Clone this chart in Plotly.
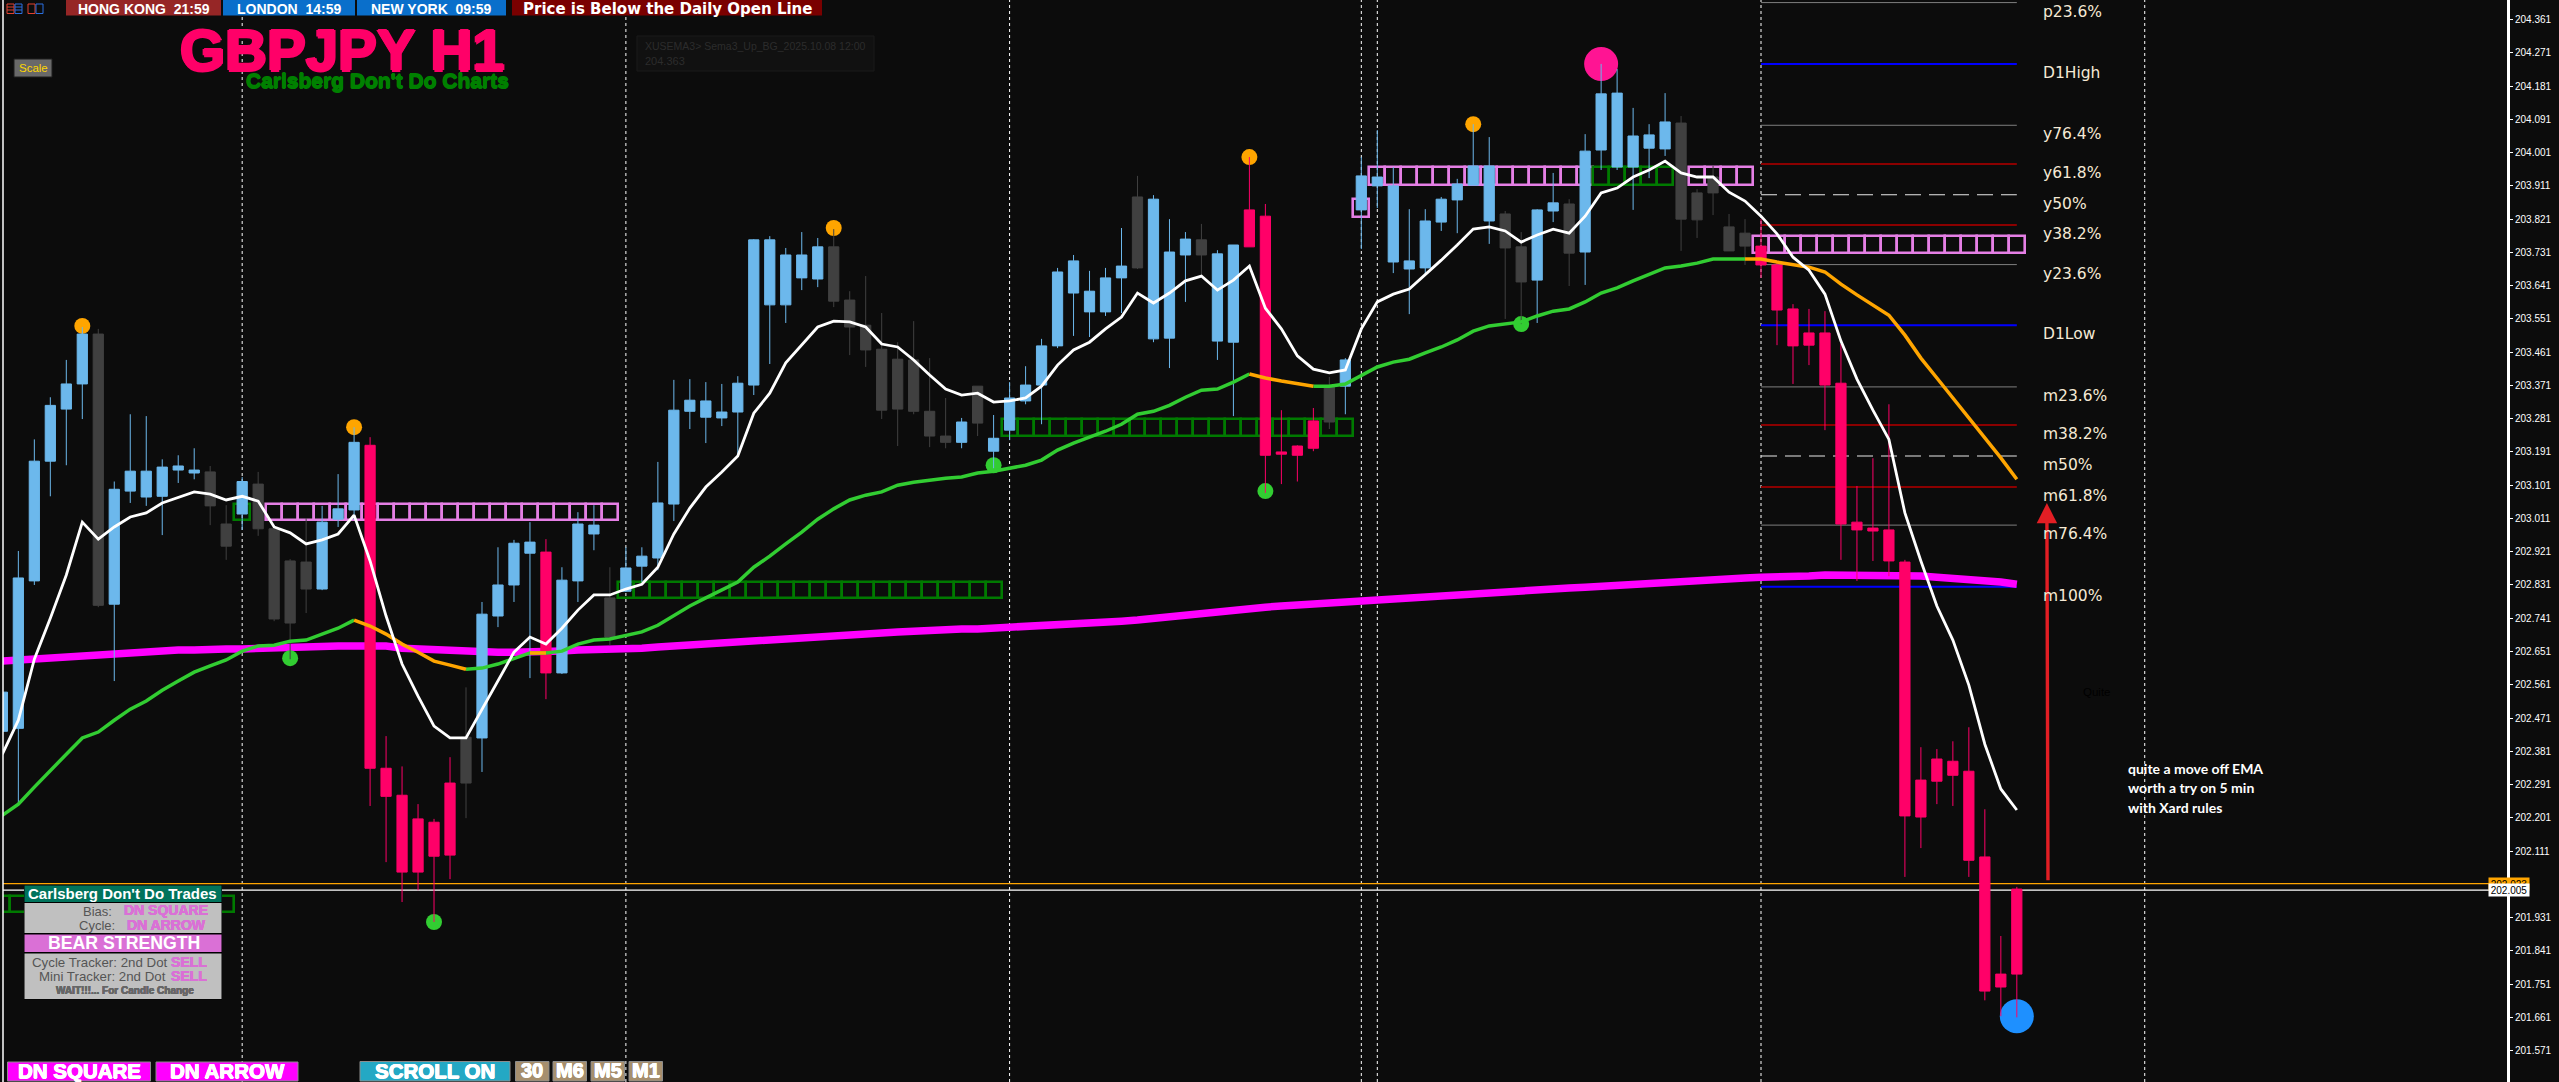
import plotly.graph_objects as go

W, H = 2559, 1082
L, R = 3, 2507
BG = "#0C0C0C"
BLUE, DARK, PINK = "#6CB8EC", "#404040", "#FF0068"

# ---------- price scale
tick_values = [204.361, 204.271, 204.181, 204.091, 204.001, 203.911, 203.821, 203.731, 203.641, 203.551,
               203.461, 203.371, 203.281, 203.191, 203.101, 203.011, 202.921, 202.831, 202.741, 202.651,
               202.561, 202.471, 202.381, 202.291, 202.201, 202.111, 201.931, 201.841, 201.751, 201.661, 201.571]
price_top, price_bottom = 204.414, 201.486
bar_axis_range = [0.04, 156.66]

# ---------- candles
kinds = ("BBBBBBDBBBBBBDDBDDDDBBBRRRRRRDBBBBRBBBDB"
         "BBBBBBBBBBBBDDDDDDDDBDBBBBBBBBBDBBBDBBRR"
         "RRRDBBBBBBBBBBDDBBDBBBBBBDDDDDRRRRRRRRRR"
         "RRRRRRR")
opens = [202.435,202.443,202.842,203.166,203.307,203.375,202.776,202.779,203.085,203.069,
 203.071,203.142,203.134,203.045,202.936,203.023,202.983,202.739,202.728,202.820,
 202.820,203.009,203.034,203.209,202.335,202.262,202.198,202.189,202.295,202.295,
 202.417,202.747,202.831,202.917,202.920,202.593,202.842,202.969,202.690,202.814,
 202.882,202.904,203.050,203.301,203.285,203.283,203.299,203.372,203.589,203.589,
 203.662,203.659,203.599,203.529,203.467,203.304,203.307,203.301,203.234,203.217,
 203.217,203.269,203.193,203.250,203.329,203.372,203.478,203.621,203.570,203.570,
 203.662,203.689,203.497,203.499,203.724,203.724,203.491,203.488,203.746,203.829,
 203.191,203.207,203.275,203.272,203.369,203.846,203.911,203.705,203.686,203.689,
 203.813,203.873,203.913,203.816,203.743,203.651,203.656,203.843,203.729,203.732,
 204.008,203.962,203.962,204.013,204.011,203.821,203.819,203.892,203.735,203.748,
 203.748,203.697,203.578,203.513,203.513,203.377,203.001,202.985,202.980,202.893,
 202.303,202.360,202.354,202.327,202.095,201.778,202.008]
highs = [202.574,202.923,203.225,203.339,203.440,203.529,203.524,203.111,203.293,203.288,
 203.171,203.182,203.201,203.153,203.047,203.123,203.137,202.983,202.901,203.012,
 203.045,203.131,203.258,203.231,202.422,202.340,202.238,202.198,202.365,202.554,
 202.785,202.933,202.953,203.001,202.955,202.879,203.028,203.047,202.879,202.933,
 202.933,203.164,203.386,203.388,203.380,203.375,203.396,203.767,203.775,203.743,
 203.786,203.770,203.794,203.626,203.667,203.567,203.488,203.545,203.445,203.337,
 203.283,203.369,203.291,203.380,203.423,203.497,203.689,203.724,203.681,203.689,
 203.797,203.938,203.886,203.821,203.786,203.808,203.737,203.751,203.989,203.862,
 203.304,203.209,203.310,203.394,203.445,203.989,204.062,203.962,203.848,203.848,
 203.881,203.930,204.078,204.043,203.843,203.786,203.848,203.946,203.875,204.051,
 204.241,204.227,204.122,204.078,204.162,204.100,203.902,203.965,203.835,203.821,
 203.821,203.702,203.591,203.578,203.572,203.483,203.099,203.174,203.320,202.899,
 202.392,202.387,202.408,202.446,202.224,201.881,202.014]
lows = [202.411,202.241,202.831,203.071,203.155,203.280,202.771,202.571,203.053,203.045,
 202.966,203.107,203.117,202.993,202.899,202.980,202.964,202.733,202.630,202.755,
 202.817,202.988,203.007,202.233,202.081,201.973,202.005,201.919,202.035,202.200,
 202.325,202.717,202.785,202.579,202.522,202.590,202.785,202.925,202.668,202.812,
 202.839,202.871,203.004,203.253,203.215,203.261,203.180,203.345,203.429,203.540,
 203.629,203.637,203.583,203.453,203.421,203.280,203.207,203.293,203.204,203.201,
 203.201,203.234,203.147,203.223,203.320,203.266,203.472,203.505,203.502,203.559,
 203.567,203.686,203.488,203.418,203.597,203.667,203.440,203.288,203.746,203.080,
 203.104,203.111,203.193,203.253,203.293,203.740,203.851,203.675,203.564,203.672,
 203.789,203.783,203.913,203.754,203.551,203.537,203.540,203.813,203.640,203.643,
 203.954,203.954,203.846,203.932,203.992,203.735,203.770,203.832,203.735,203.697,
 203.662,203.480,203.375,203.426,203.250,202.899,202.842,202.896,202.855,202.041,
 202.119,202.238,202.233,202.041,201.707,201.664,201.661]
closes = [202.541,202.850,203.166,203.317,203.375,203.510,203.510,203.090,203.139,203.139,
 203.150,203.153,203.142,203.137,202.996,203.111,203.104,202.983,202.896,202.893,
 203.001,203.037,203.217,202.335,202.259,202.054,202.054,202.097,202.100,202.419,
 202.752,202.831,202.944,202.947,202.593,202.844,202.996,202.993,202.796,202.877,
 202.909,203.053,203.304,203.331,203.329,203.299,203.377,203.765,203.765,203.724,
 203.724,203.746,203.746,203.602,203.534,203.469,203.442,203.440,203.301,203.234,
 203.272,203.369,203.228,203.337,203.372,203.478,203.678,203.708,203.626,203.662,
 203.694,203.881,203.875,203.732,203.767,203.765,203.727,203.751,203.846,203.182,
 203.185,203.182,203.201,203.369,203.440,203.938,203.935,203.911,203.708,203.816,
 203.875,203.916,203.965,203.965,203.835,203.746,203.846,203.865,203.862,204.005,
 204.160,204.162,204.046,204.049,204.084,204.081,203.892,203.935,203.800,203.783,
 203.697,203.575,203.478,203.480,203.372,202.996,202.980,202.977,202.896,202.206,
 202.203,202.300,202.316,202.086,201.732,201.743,201.778]

# ---------- moving averages
fast_ema = [202.373,202.465,202.630,202.741,202.858,203.001,202.955,202.988,203.015,203.026,
 203.053,203.069,203.083,203.077,203.061,203.071,203.058,202.988,202.972,202.942,
 202.953,202.969,203.020,202.896,202.747,202.617,202.530,202.449,202.417,202.417,
 202.495,202.574,202.649,202.690,202.671,202.714,202.763,202.804,202.804,202.820,
 202.833,202.879,202.969,203.039,203.096,203.137,203.180,203.296,203.350,203.432,
 203.480,203.529,203.545,203.543,203.529,203.483,203.475,203.440,203.399,203.361,
 203.345,203.350,203.326,203.329,203.337,203.369,203.426,203.467,203.488,203.524,
 203.556,203.621,203.594,203.621,203.654,203.667,203.629,203.656,203.694,203.580,
 203.524,203.451,203.415,203.405,203.413,203.524,203.597,203.618,203.632,203.670,
 203.710,203.751,203.794,203.800,203.789,203.759,203.778,203.794,203.783,203.829,
 203.892,203.905,203.935,203.954,203.978,203.946,203.935,203.935,203.894,203.870,
 203.829,203.781,203.718,203.683,203.618,203.491,203.388,203.304,203.225,203.026,
 202.896,202.774,202.682,202.560,202.400,202.279,202.222]
slow_ema = [202.208,202.238,202.284,202.327,202.373,202.417,202.433,202.465,202.495,202.517,
 202.546,202.571,202.595,202.612,202.628,202.652,202.666,202.668,202.679,202.682,
 202.698,202.714,202.736,202.720,202.698,202.671,202.649,202.625,202.614,202.603,
 202.606,202.617,202.633,202.647,202.647,202.652,202.671,202.682,202.685,202.695,
 202.704,202.722,202.747,202.774,202.796,202.817,202.839,202.879,202.909,202.942,
 202.974,203.009,203.037,203.061,203.074,203.083,203.101,203.109,203.115,203.120,
 203.123,203.134,203.139,203.147,203.155,203.169,203.196,203.215,203.231,203.247,
 203.266,203.293,203.301,203.317,203.339,203.358,203.361,203.380,203.402,203.391,
 203.383,203.375,203.369,203.369,203.375,203.399,203.421,203.434,203.442,203.459,
 203.475,203.494,203.518,203.532,203.537,203.543,203.559,203.572,203.578,203.597,
 203.621,203.635,203.654,203.672,203.689,203.694,203.702,203.713,203.713,203.713,
 203.713,203.705,203.699,203.691,203.678,203.645,203.616,203.589,203.561,203.507,
 203.445,203.391,203.337,203.283,203.229,203.175,203.117]
slow_down_spans = [(22, 29), (33, 34), (78, 82), (109, 126)]
long_ema = [202.625,202.628,202.630,202.633,202.636,202.641,202.644,202.644,202.647,202.649,
 202.652,202.655,202.655,202.658,202.658,202.658,202.660,202.660,202.663,202.663,
 202.666,202.666,202.666,202.668,202.666,202.660,202.658,202.655,202.652,202.649,
 202.649,202.649,202.649,202.649,202.652,202.652,202.655,202.655,202.658,202.658,
 202.660,202.663,202.666,202.668,202.671,202.674,202.676,202.682,202.685,202.687,
 202.690,202.693,202.695,202.695,202.698,202.701,202.704,202.706,202.709,202.709,
 202.712,202.712,202.714,202.714,202.717,202.720,202.722,202.725,202.728,202.731,
 202.733,202.736,202.741,202.744,202.750,202.752,202.758,202.763,202.768,202.771,
 202.774,202.777,202.779,202.782,202.785,202.787,202.790,202.793,202.796,202.798,
 202.801,202.804,202.806,202.809,202.812,202.815,202.817,202.820,202.823,202.825,
 202.828,202.831,202.833,202.836,202.836,202.839,202.842,202.844,202.847,202.850,
 202.852,202.852,202.855,202.855,202.858,202.858,202.858,202.858,202.858,202.858,
 202.855,202.852,202.850,202.847,202.842,202.839,202.833]

# ---------- swing dots
orange_dot_bars, orange_dot_prices = [5, 22, 52, 78, 92], [203.532, 203.258, 203.797, 203.989, 204.078]
green_dot_bars, green_dot_prices = [18, 27, 62, 79, 95], [202.633, 201.919, 203.155, 203.085, 203.537]
pink_dot_bars, pink_dot_prices = [100], [204.241]
blue_dot_bars, blue_dot_prices = [126], [201.664]

# ---------- ladder rows: (first bar, last bar, low, high, colour name)
ladder_rows = [
    (0, 14, 201.946, 201.989, "green"),
    (15, 15, 203.007, 203.050, "green"),
    (17, 38, 203.007, 203.050, "violet"),
    (39, 62, 202.796, 202.840, "green"),
    (63, 84, 203.234, 203.280, "green"),
    (85, 85, 203.827, 203.875, "violet"),
    (86, 99, 203.913, 203.962, "violet"),
    (100, 104, 203.913, 203.962, "green"),
    (106, 109, 203.913, 203.962, "violet"),
    (110, 126, 203.729, 203.775, "violet"),
]
ladder_colors = {"green": "#007A00", "violet": "#E57FE5"}

# ---------- fibonacci levels
fib_names = ["p23.6%", "D1High", "y76.4%", "y61.8%", "y50%", "y38.2%", "y23.6%", "D1Low",
             "m23.6%", "m38.2%", "m50%", "m61.8%", "m76.4%", "m100%"]
fib_prices = [204.407, 204.241, 204.075, 203.970, 203.887, 203.805, 203.698, 203.534,
              203.367, 203.264, 203.180, 203.096, 202.993, 202.826]
fib_kinds = ["gray", "blue", "gray", "red", "white", "red", "gray", "blue",
             "gray", "red", "white", "red", "gray", "blue"]
fib_first_bar, fib_last_bar, fib_label_bar = 110, 126, 127.5
fib_styles = {"gray": ("#7F7F7F", 1, "solid"), "blue": ("#0000FF", 2, "solid"),
              "red": ("#8B0000", 2, "solid"), "white": ("#E8E8E8", 1, "16px,8px")}

separator_bars = [15, 39, 63, 85, 86, 110, 134]
ask_price, bid_price = 202.023, 202.005
arrow_tip_price, arrow_tail_price, arrow_bar = 203.053, 202.028, 127.95
note_lines = ["quite a move off EMA", "worth a try on 5 min", "with Xard rules"]

bars = list(range(len(opens)))


def px(x):
    return (x - L) / (R - L)


def py(y):
    return 1 - y / H


fig = go.Figure()

# background layer (main axes): ladders, fibs, dots, long EMA
for first, last, low, high, name in ladder_rows:
    xs = list(range(first, last + 1))
    fig.add_trace(go.Bar(x=xs, y=[high - low] * len(xs), base=[low] * len(xs), width=1,
                         marker=dict(color="rgba(0,0,0,0)", line=dict(color=ladder_colors[name], width=2.6)),
                         hoverinfo="skip", showlegend=False))
for price, kind in zip(fib_prices, fib_kinds):
    c, w, d = fib_styles[kind]
    fig.add_trace(go.Scatter(x=[fib_first_bar, fib_last_bar], y=[price, price], mode="lines",
                             line=dict(color=c, width=w, dash=d), hoverinfo="skip", showlegend=False))
fig.add_trace(go.Scatter(x=bars, y=long_ema, mode="lines", line=dict(color="#FF00FF", width=7.5),
                         hoverinfo="skip", showlegend=False))
for xs, ys, color, size in [(orange_dot_bars, orange_dot_prices, "#FFA500", 16),
                            (green_dot_bars, green_dot_prices, "#32CD32", 16),
                            (pink_dot_bars, pink_dot_prices, "#FF1493", 34),
                            (blue_dot_bars, blue_dot_prices, "#1E90FF", 34)]:
    fig.add_trace(go.Scatter(x=xs, y=ys, mode="markers", marker=dict(color=color, size=size, line=dict(width=0)),
                             hoverinfo="skip", showlegend=False))

# candle layer (overlaid axes)
for code, color in [("B", BLUE), ("D", DARK), ("R", PINK)]:
    ids = [i for i in bars if kinds[i] == code]
    style = dict(line=dict(color=color, width=1), fillcolor=color)
    fig.add_trace(go.Candlestick(x=ids, open=[opens[i] for i in ids], high=[highs[i] for i in ids],
                                 low=[lows[i] for i in ids], close=[closes[i] for i in ids],
                                 increasing=style, decreasing=style, whiskerwidth=0,
                                 xaxis="x2", yaxis="y2", hoverinfo="skip", showlegend=False))

# slow EMA, split into rising and falling parts
down = [any(a <= i <= b for a, b in slow_down_spans) for i in bars]
up_y = [v if (not down[i] or (i + 1 < len(bars) and not down[i + 1]) or (i > 0 and not down[i - 1])) else None
        for i, v in enumerate(slow_ema)]
down_y = [v if down[i] else None for i, v in enumerate(slow_ema)]
fig.add_trace(go.Scatter(x=bars, y=up_y, mode="lines", line=dict(color="#32CD32", width=3.5),
                         xaxis="x2", yaxis="y2", hoverinfo="skip", showlegend=False))
fig.add_trace(go.Scatter(x=bars, y=down_y, mode="lines", line=dict(color="#FFA500", width=3.5),
                         xaxis="x2", yaxis="y2", hoverinfo="skip", showlegend=False))
fig.add_trace(go.Scatter(x=bars, y=fast_ema, mode="lines", line=dict(color="#FFFFFF", width=2.8),
                         xaxis="x2", yaxis="y2", hoverinfo="skip", showlegend=False))

shapes, notes = [], []


def rect(x0, y0, x1, y1, fill, line=None, lw=1, layer="above"):
    shapes.append(dict(type="rect", xref="paper", yref="paper", x0=px(x0), x1=px(x1), y0=py(y0), y1=py(y1),
                       fillcolor=fill, line=dict(color=line or fill, width=lw if line else 0), layer=layer))


def seg(x0, y0, x1, y1, color, lw=1):
    shapes.append(dict(type="line", xref="paper", yref="paper", x0=px(x0), x1=px(x1), y0=py(y0), y1=py(y1),
                       line=dict(color=color, width=lw), layer="above"))


def text(t, x, y, size, color="#FFFFFF", anchor="center", bold=False, font="Liberation Sans", fat=0):
    f = dict(family=font, size=size, color=color)
    if fat:
        f["shadow"] = (f"{fat}px 0 0 {color}, -{fat}px 0 0 {color}, 0 {fat}px 0 {color}, 0 -{fat}px 0 {color}")
    notes.append(dict(text=f"<b>{t}</b>" if bold else t, xref="paper", yref="paper", x=px(x), y=py(y),
                      xanchor=anchor, yanchor="middle", showarrow=False, font=f))


# session separators, last price lines, left edge
for b in separator_bars:
    shapes.append(dict(type="line", xref="x", yref="paper", x0=b, x1=b, y0=0, y1=1, layer="below",
                       line=dict(color="#FFFFFF", width=1, dash="3px,3px")))
for price, color in [(ask_price, "#FFA500"), (bid_price, "#FFFFFF")]:
    shapes.append(dict(type="line", xref="paper", yref="y", x0=0, x1=1, y0=price, y1=price, layer="below",
                       line=dict(color=color, width=1.2)))
seg(L, 0, L, H, "#FFFFFF", 1.5)

# header strip
rect(66, 0, 221, 15.5, "#962626")
rect(223, 0, 355, 15.5, "#0A6FCB")
rect(357, 0, 506, 15.5, "#0A6FCB")
rect(512, 0, 822, 15.5, "#7A0000")
text("HONG KONG  21:59", 143.5, 8.5, 14, bold=True)
text("LONDON  14:59", 289, 8.5, 14, bold=True)
text("NEW YORK  09:59", 431.5, 8.5, 14, bold=True)
text("Price is Below the Daily Open Line", 667, 8.5, 15, bold=True, font="DejaVu Sans")
# header icons
for x0, x1, c in [(7, 14, "#E2402E"), (15, 22, "#2A6FE0"), (28, 35, "#E2402E"), (36, 43, "#2A6FE0")]:
    rect(x0, 4, x1, 13.5, "rgba(0,0,0,0)", c, 1)
for yy in (7, 10):
    seg(7, yy, 14, yy, "#E2402E")
    seg(15, yy, 22, yy, "#2A6FE0")

# title block
text("GBPJPY H1", 342, 49, 58, PINK, bold=True, fat=1.5)
text("Carlsberg Don't Do Charts", 377, 80, 21, "#008000", bold=True, fat=0.6)
rect(14, 59, 52, 77, "#696969", "#1E1E1E", 1)
text("Scale", 33, 68, 11.5, "#FFD700")
rect(637, 36, 874, 71, "#111111", "#1A1A1A", 1, layer="below")
text("XUSEMA3&gt; Sema3_Up_BG_2025.10.08 12:00", 643, 46, 10.5, "#2C2C2C", anchor="left")
text("204.363", 643, 61, 11, "#2C2C2C", anchor="left")

# info panel
rect(24, 885, 222, 999.5, "#000000")
rect(24.5, 885.5, 221.5, 902, "#00735C")
rect(24.5, 903, 221.5, 933, "#C0C0C0")
rect(24.5, 934.5, 221.5, 952, "#DA70D6")
rect(24.5, 953.5, 221.5, 999, "#C0C0C0")
text("Carlsberg Don't Do Trades", 122.5, 893.5, 15, bold=True)
text("Bias:", 114, 911, 13, "#555555", anchor="right")
text("DN SQUARE", 165.5, 910, 14, "#DA70D6", bold=True, fat=0.3)
text("Cycle:", 117, 925, 13, "#555555", anchor="right")
text("DN ARROW", 166, 925, 14, "#DA70D6", bold=True, fat=0.3)
text("BEAR STRENGTH", 123.5, 943, 17.7, bold=True)
text("Cycle Tracker: 2nd Dot", 170, 962, 13.3, "#555555", anchor="right")
text("SELL", 189, 962, 14, "#DA70D6", bold=True, fat=0.3)
text("Mini Tracker: 2nd Dot", 168, 976, 13.3, "#555555", anchor="right")
text("SELL", 189, 976, 14, "#DA70D6", bold=True, fat=0.3)
text("WAIT!!!... For Candle Change", 125, 990, 10, "#666666", bold=True, fat=0.3)

# bottom buttons
rect(7.5, 1062, 150.5, 1081, "#FF00FF", "#8C8C8C", 1)
text("DN SQUARE", 79, 1070, 20.5, bold=True, fat=0.5)
rect(156, 1062, 298, 1081, "#FF00FF", "#8C8C8C", 1)
text("DN ARROW", 227, 1070, 20.5, bold=True, fat=0.5)
rect(360, 1061.5, 510, 1081, "#24A8C4", "#8C8C8C", 1)
text("SCROLL ON", 435, 1070, 20.5, bold=True, fat=0.5)
for x0, label in [(515.5, "30"), (553, "M6"), (591, "M5"), (629, "M1")]:
    rect(x0, 1061.5, x0 + 33.5, 1081, "#A68F6E", "#8C8C8C", 1)
    text(label, x0 + 16.75, 1070, 20, bold=True, fat=0.5)

# fib labels
for name, price in zip(fib_names, fib_prices):
    notes.append(dict(text=name, x=fib_label_bar, y=price, xref="x", yref="y", xanchor="left", yanchor="middle",
                      yshift=-9, showarrow=False, font=dict(family="DejaVu Sans", size=15.5, color="#F5E9D5")))

# trader's note and arrow
for line, yy in zip(note_lines, (768, 787.5, 807)):
    text(line, 2126, yy, 14, bold=True, anchor="left", font="Lato")
text("Quite", 2097, 692, 11.5, "#000000")
notes.insert(0, dict(x=arrow_bar - 0.07, y=arrow_tip_price, ax=arrow_bar, ay=arrow_tail_price, xref="x", yref="y",
                     axref="x", ayref="y", text="", showarrow=True, arrowhead=2, arrowsize=1.2,
                     arrowwidth=3.4, arrowcolor="#E31E24"))

# last price boxes
notes.append(dict(text="202.023", xref="paper", yref="y", x=px(2530), y=ask_price, showarrow=False,
                  width=38, height=10, bgcolor="#FFA500", font=dict(family="Liberation Sans", size=10, color="#000000")))
notes.append(dict(text="202.005", xref="paper", yref="y", x=px(2530), y=bid_price, showarrow=False,
                  width=38, height=10, bgcolor="#FFFFFF", font=dict(family="Liberation Sans", size=10, color="#000000")))

y_range = [price_bottom, price_top]
fig.update_layout(
    width=W, height=H, margin=dict(l=L, r=W - R, t=0, b=0), autosize=False,
    paper_bgcolor=BG, plot_bgcolor=BG, showlegend=False,
    barmode="overlay", boxmode="overlay", boxgap=0.36, boxgroupgap=0, bargap=0,
    xaxis=dict(range=bar_axis_range, visible=False, fixedrange=True, rangeslider=dict(visible=False)),
    xaxis2=dict(range=bar_axis_range, visible=False, overlaying="x", fixedrange=True, rangeslider=dict(visible=False)),
    yaxis=dict(range=y_range, side="right", showgrid=False, zeroline=False, showline=True, linecolor="#FFFFFF",
               linewidth=3, ticks="outside", ticklen=3, tickwidth=1, tickcolor="#FFFFFF", tickmode="array",
               tickvals=tick_values, ticktext=[f"{v:.3f}" for v in tick_values],
               tickfont=dict(family="Liberation Sans", size=10, color="#FFFFFF"), fixedrange=True),
    yaxis2=dict(range=y_range, overlaying="y", side="right", visible=False, fixedrange=True),
    shapes=shapes, annotations=notes,
)

fig.write_html("out.html", config={"displayModeBar": False},
               post_script="document.body.style.margin='0';document.body.style.overflow='hidden';"
                           "document.body.style.background='#0C0C0C';")
